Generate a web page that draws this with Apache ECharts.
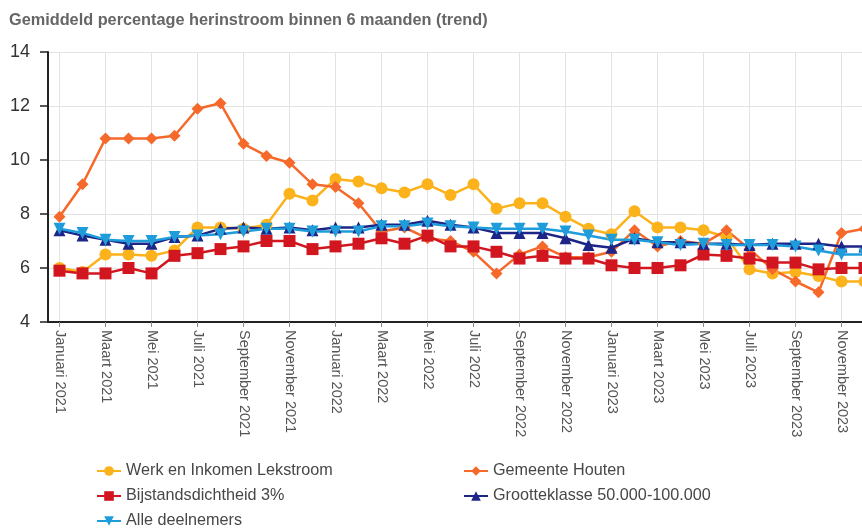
<!DOCTYPE html>
<html>
<head>
<meta charset="utf-8">
<script src="https://cdn.jsdelivr.net/npm/echarts@6/dist/echarts.min.js"></script>
<style>
  html, body { margin: 0; padding: 0; overflow: hidden; background: #fff; }
  #myChart { width: 890px; height: 530px; }
</style>
</head>
<body>
<div id="myChart"></div>
<script>
// maanden jan 2021 t/m dec 2023
const maandNamen = ['Januari', 'Februari', 'Maart', 'April', 'Mei', 'Juni', 'Juli',
  'Augustus', 'September', 'Oktober', 'November', 'December'];
const jaren = [2021, 2022, 2023];
const maanden = [];
jaren.forEach(j => maandNamen.forEach(m => maanden.push(m + ' ' + j)));

const yTicks = { min: 4, max: 14, interval: 2 };

// waarden
const werkInkomen = [6.0, 5.85, 6.5, 6.5, 6.45, 6.65, 7.5, 7.5, 7.45, 7.6, 8.75, 8.5,
  9.3, 9.2, 8.95, 8.8, 9.1, 8.7, 9.1, 8.2, 8.4, 8.4, 7.9, 7.45,
  7.25, 8.1, 7.5, 7.5, 7.4, 7.15, 5.95, 5.8, 5.85, 5.7, 5.5, 5.5];
const houten = [7.9, 9.1, 10.8, 10.8, 10.8, 10.9, 11.9, 12.1, 10.6, 10.15, 9.9, 9.1,
  9.0, 8.4, 7.35, 7.5, 7.1, 7.0, 6.6, 5.8, 6.5, 6.8, 6.4, 6.4,
  6.6, 7.4, 6.8, 7.0, 6.9, 7.4, 6.7, 5.95, 5.5, 5.1, 7.3, 7.45];
const bijstand = [5.9, 5.8, 5.8, 6.0, 5.8, 6.45, 6.55, 6.7, 6.8, 7.0, 7.0, 6.7,
  6.8, 6.9, 7.1, 6.9, 7.2, 6.8, 6.8, 6.6, 6.35, 6.45, 6.35, 6.35,
  6.1, 6.0, 6.0, 6.1, 6.5, 6.45, 6.35, 6.2, 6.2, 5.95, 6.0, 6.0];
const grootteklasse = [7.4, 7.2, 7.05, 6.9, 6.9, 7.15, 7.2, 7.45, 7.5, 7.45, 7.5, 7.4,
  7.5, 7.5, 7.6, 7.6, 7.75, 7.6, 7.5, 7.3, 7.3, 7.3, 7.1, 6.85,
  6.75, 7.1, 6.95, 6.95, 6.9, 6.9, 6.85, 6.9, 6.9, 6.9, 6.8, 6.8];
const alleDeelnemers = [7.45, 7.3, 7.05, 7.0, 7.0, 7.15, 7.2, 7.25, 7.35, 7.45, 7.45, 7.35,
  7.35, 7.35, 7.55, 7.55, 7.65, 7.55, 7.5, 7.45, 7.45, 7.45, 7.35, 7.2,
  7.05, 7.05, 6.95, 6.85, 6.9, 6.85, 6.85, 6.85, 6.8, 6.65, 6.5, 6.5];

const reeksen = [
  { name: 'Werk en Inkomen Lekstroom', data: werkInkomen, color: '#fbb21b', symbol: 'circle', size: 12 },
  { name: 'Gemeente Houten', data: houten, color: '#f5692b', symbol: 'diamond', size: 12 },
  { name: 'Bijstandsdichtheid 3%', data: bijstand, color: '#d2161f', symbol: 'rect', size: 12 },
  { name: 'Grootteklasse 50.000-100.000', data: grootteklasse, color: '#1d2586', symbol: 'triangle', size: 12 },
  { name: 'Alle deelnemers', data: alleDeelnemers, color: '#1f9ddb', symbol: 'triangle', size: 12, rotate: 180 }
];

const myChart = echarts.init(document.getElementById('myChart'));

const legendStijl = {
  orient: 'vertical',
  top: 462,
  height: 68,
  padding: 0,
  itemWidth: 24,
  itemHeight: 12,
  itemGap: 7,
  textStyle: { fontFamily: 'Liberation Sans', fontSize: 16.2, lineHeight: 18, color: '#474747' }
};

myChart.setOption({
  animation: false,
  title: {
    text: 'Gemiddeld percentage herinstroom binnen 6 maanden (trend)',
    left: 4,
    top: 8,
    textStyle: { fontFamily: 'Liberation Sans', fontSize: 16.3, fontWeight: 'bold', color: '#666666' }
  },
  legend: [
    Object.assign({ left: 96, data: ['Werk en Inkomen Lekstroom', 'Bijstandsdichtheid 3%', 'Alle deelnemers'] }, legendStijl),
    Object.assign({ left: 463, data: ['Gemeente Houten', 'Grootteklasse 50.000-100.000'] }, legendStijl)
  ],
  grid: { left: 48, top: 52, width: 23 * maanden.length, height: 270 },
  xAxis: {
    type: 'category',
    data: maanden,
    boundaryGap: true,
    axisLine: { lineStyle: { color: '#222', width: 2 } },
    axisTick: { show: true, alignWithLabel: true, interval: 1, length: 5, lineStyle: { color: '#888' } },
    axisLabel: {
      interval: 1,
      rotate: -90,
      margin: 8,
      fontFamily: 'Liberation Sans',
      fontSize: 14.5,
      color: '#555'
    },
    splitLine: { show: true, alignWithLabel: true, interval: 1, lineStyle: { color: '#e3e3e3', width: 1 } }
  },
  yAxis: {
    type: 'value',
    min: yTicks.min,
    max: yTicks.max,
    interval: yTicks.interval,
    axisLine: { show: true, lineStyle: { color: '#222', width: 2 } },
    axisTick: { show: true, length: 8, lineStyle: { color: '#222', width: 1.5 } },
    axisLabel: { margin: 18, fontFamily: 'Liberation Sans', fontSize: 18, color: '#333' },
    splitLine: { show: true, lineStyle: { color: '#e3e3e3', width: 1 } }
  },
  series: reeksen.map(r => ({
    name: r.name,
    type: 'line',
    data: r.data,
    symbol: r.symbol,
    symbolSize: r.size,
    symbolRotate: r.rotate || 0,
    showAllSymbol: true,
    lineStyle: { color: r.color, width: 2.5 },
    itemStyle: { color: r.color },
    emphasis: { disabled: true }
  }))
});
</script>
</body>
</html>
